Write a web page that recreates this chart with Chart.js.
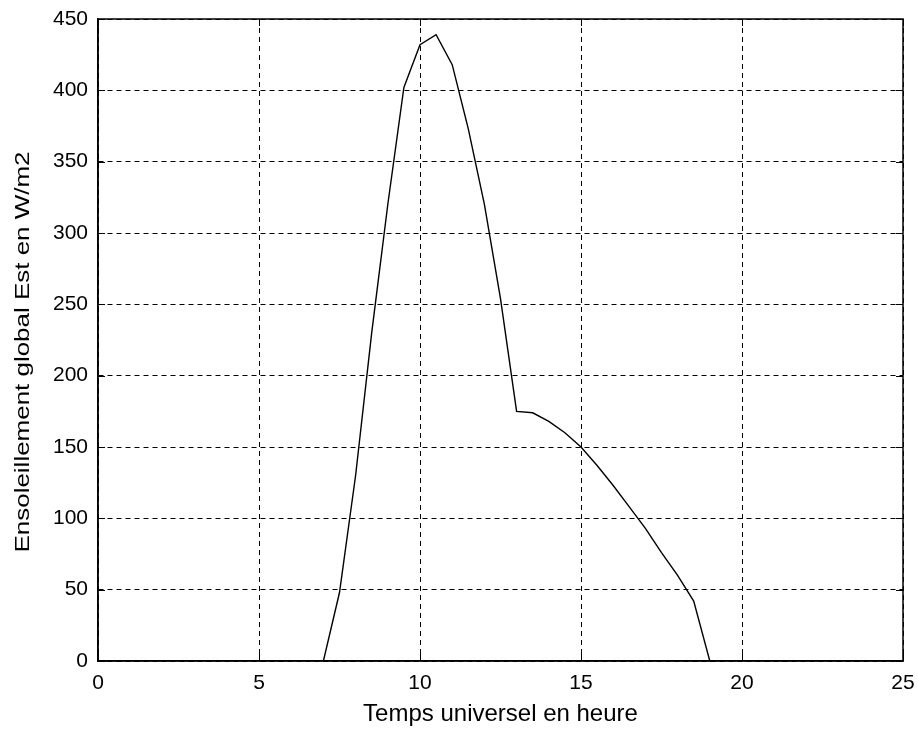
<!DOCTYPE html>
<html>
<head>
<meta charset="utf-8">
<script src="https://cdn.jsdelivr.net/npm/chart.js@4/dist/chart.umd.min.js"></script>
<style>
html,body{margin:0;padding:0;background:#fff;}
#wrap{width:918px;height:733px;}
</style>
</head>
<body>
<div id="wrap"><canvas id="c" width="918" height="733"></canvas></div>
<script>
const hours = [0,0.5,1,1.5,2,2.5,3,3.5,4,4.5,5,5.5,6,6.5,7,7.5,8,8.5,9,9.5,10,10.5,11,11.5,12,12.5,13,13.5,14,14.5,15,15.5,16,16.5,17,17.5,18,18.5,19,19.5,20,20.5,21,21.5,22,22.5,23,23.5,24];
const irradiance = [0,0,0,0,0,0,0,0,0,0,0,0,0,0,0,48,130,230,320,402,432,439,418,373,320,254,175,174,168,160,150,137,123,108,93,76,60,42,0,0,0,0,0,0,0,0,0,0,0];
const xTicks = [0,5,10,15,20,25];
const yTicks = [0,50,100,150,200,250,300,350,400,450];
const xTitle = 'Temps universel en heure';
const yTitle = 'Ensoleillement global Est en W/m2';

const FONT = "'Liberation Sans', Arial, sans-serif";
const points = hours.map((h, i) => ({x: h, y: irradiance[i]}));

const boxPlugin = {
  id: 'box',
  afterDraw(chart) {
    const {ctx, chartArea: a, scales} = chart;
    ctx.save();
    ctx.strokeStyle = '#000';
    ctx.lineWidth = 1.5;
    ctx.strokeRect(a.left, a.top, a.right - a.left, a.bottom - a.top);
    ctx.lineWidth = 1;
    ctx.beginPath();
    xTicks.forEach(v => {
      const px = Math.round(scales.x.getPixelForValue(v)) + 0.5;
      ctx.moveTo(px, a.bottom); ctx.lineTo(px, a.bottom - 7);
      ctx.moveTo(px, a.top); ctx.lineTo(px, a.top + 7);
    });
    yTicks.forEach(v => {
      const py = Math.round(scales.y.getPixelForValue(v)) + 0.5;
      ctx.moveTo(a.left, py); ctx.lineTo(a.left + 7, py);
      ctx.moveTo(a.right, py); ctx.lineTo(a.right - 7, py);
    });
    ctx.stroke();
    // y axis title, stretched along its length like the scanned original
    ctx.fillStyle = '#000';
    ctx.font = "20px " + FONT;
    ctx.textAlign = 'center';
    ctx.textBaseline = 'middle';
    const w = ctx.measureText(yTitle).width;
    const target = 401;
    ctx.translate(23, 352);
    ctx.rotate(-Math.PI / 2);
    ctx.scale(target / w, 1);
    ctx.fillText(yTitle, 0, 0);
    ctx.restore();
  }
};

new Chart(document.getElementById('c'), {
  type: 'line',
  data: {
    datasets: [{
      data: points,
      borderColor: '#000',
      borderWidth: 1.4,
      pointRadius: 0,
      tension: 0,
      fill: false
    }]
  },
  options: {
    responsive: false,
    animation: false,
    layout: {padding: {top: 19, right: 15, left: 0, bottom: 0}},
    plugins: {legend: {display: false}, tooltip: {enabled: false}},
    scales: {
      x: {
        type: 'linear',
        min: 0, max: 25,
        afterFit(s) { s.height = 72; s.paddingLeft = 0; s.paddingRight = 0; },
        afterBuildTicks(s) { s.ticks = xTicks.map(v => ({value: v})); },
        ticks: {color: '#000', font: {family: FONT, size: 21}, padding: 10, maxRotation: 0},
        grid: {color: '#000', lineWidth: 1, drawTicks: false},
        border: {display: true, color: '#000', width: 1.5, dash: [5, 4]},
        title: {display: true, text: xTitle, color: '#000', font: {family: FONT, size: 24}, padding: {top: 4, bottom: 4}}
      },
      y: {
        type: 'linear',
        min: 0, max: 450,
        afterFit(s) { s.width = 98; s.paddingTop = 0; s.paddingBottom = 0; },
        afterBuildTicks(s) { s.ticks = yTicks.map(v => ({value: v})); },
        ticks: {color: '#000', font: {family: FONT, size: 21}, padding: 10},
        grid: {color: '#000', lineWidth: 1, drawTicks: false},
        border: {display: true, color: '#000', width: 1.5, dash: [5, 4]},
        title: {display: false}
      }
    }
  },
  plugins: [boxPlugin]
});
</script>
</body>
</html>
